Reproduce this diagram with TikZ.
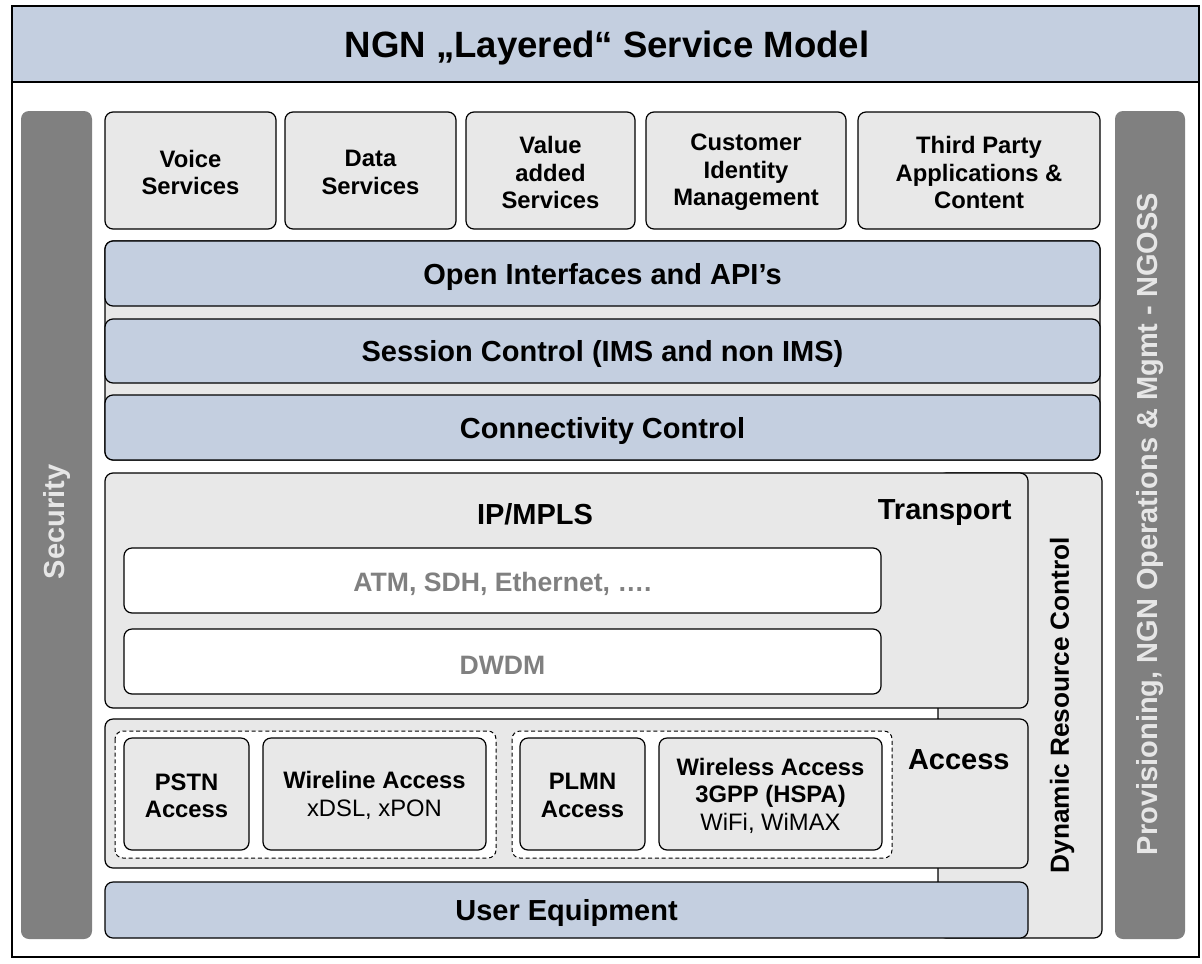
\documentclass[tikz,border=0pt]{standalone}
\usepackage{fontspec}
\setmainfont{Liberation Sans}
\usepackage{xcolor}
\usepackage{tikz}
\usetikzlibrary{positioning}

\definecolor{layerblue}{HTML}{C4CFE0}
\definecolor{boxgray}{HTML}{E8E8E8}
\definecolor{sidegray}{HTML}{808080}
\definecolor{sidetext}{HTML}{E6E6E6}
\definecolor{techgray}{HTML}{808080}

\begin{document}
\begin{tikzpicture}[x=0.5pt, y=-0.5pt,
    box/.style={draw=black, line width=0.6pt, rounded corners=4pt, fill=boxgray},
    layer/.style={box, fill=layerblue},
    techbox/.style={box, fill=white},
    group/.style={draw=black, line width=0.5pt, dash pattern=on 2pt off 1.4pt, rounded corners=4pt, fill=white},
    side/.style={fill=sidegray, rounded corners=4pt},
    bigfont/.style={font=\bfseries\fontsize{14.5}{17}\selectfont, inner sep=0pt},
    small/.style={font=\bfseries\fontsize{11.9}{13.7}\selectfont, align=center, inner sep=0pt, yshift=-0.75pt},
    big/.style={bigfont, yshift=-1.5pt},
    sidelabel/.style={bigfont, text=sidetext, rotate=90}]
    \useasboundingbox (0,0) rectangle (1202,963);

    % Frame and title
    \draw[line width=1pt, fill=white] (12,6) rectangle (1199,957);
    \draw[line width=1pt, fill=layerblue] (12,6) rectangle (1199,82);
    \node[font=\bfseries\fontsize{18.3}{22}\selectfont, inner sep=0pt, yshift=-1.5pt] (title) at (607,45) {NGN „Layered“ Service Model};

    % Side bars
    \path[side] (21,111) rectangle (92,939);
    \node[sidelabel] (security) at (57,522) {Security};
    \path[side] (1115,111) rectangle (1185,939);
    \node[sidelabel] (oss) at (1150,524) {Provisioning, NGN Operations \& Mgmt - NGOSS};

    % Services
    \draw[box] (105,112) rectangle (276,229);
    \node[small] (voice) at (190.5,171) {Voice\\Services};
    \draw[box] (285,112) rectangle (456,229);
    \node[small] (data) at (370.5,171) {Data\\Services};
    \draw[box] (466,112) rectangle (635,229);
    \node[small] (vas) at (550.5,171) {Value\\added\\Services};
    \draw[box] (646,112) rectangle (846,229);
    \node[small] (cim) at (746,171) {Customer\\Identity\\Management};
    \draw[box] (858,112) rectangle (1100,229);
    \node[small] (third) at (979,171) {Third Party\\Applications \&\\Content};

    % Control layers
    \draw[box] (105,241) rectangle (1100,460);
    \draw[layer] (105,241) rectangle (1100,306);
    \node[big] (api) at (602.5,274) {Open Interfaces and API’s};
    \draw[layer] (105,319) rectangle (1100,383);
    \node[big] (session) at (602.5,351) {Session Control (IMS and non IMS)};
    \draw[layer] (105,395) rectangle (1100,460);
    \node[big] (conn) at (602.5,428) {Connectivity Control};

    % Dynamic Resource Control
    \draw[box] (938,473) rectangle (1102,938);
    \node[bigfont, font=\bfseries\fontsize{13.1}{16}\selectfont, rotate=90] (drc) at (1062,705) {Dynamic Resource Control};

    % Transport
    \draw[box] (105,473) rectangle (1028,708);
    \node[big] (ipmpls) at (535,511) {IP/MPLS};
    \node[big, anchor=east] (transport) at (1012,510) {Transport};
    \draw[techbox] (124,548) rectangle (881,613);
    \node[big, font=\bfseries\fontsize{13.3}{16}\selectfont, text=techgray] (atm) at (502.5,581) {ATM, SDH, Ethernet, ….};
    \draw[techbox] (124,629) rectangle (881,694);
    \node[big, font=\bfseries\fontsize{13.3}{16}\selectfont, text=techgray] (dwdm) at (502.5,662) {DWDM};

    % Access
    \draw[box] (105,719) rectangle (1028,868);
    \node[big, anchor=east] (access) at (1010,757) {Access};
    \draw[group] (115,731) rectangle (496,858);
    \draw[box] (124,738) rectangle (249,850);
    \node[small] (pstn) at (186.5,794) {PSTN\\Access};
    \draw[box] (263,738) rectangle (486,850);
    \node[small] (wireline) at (374.5,794) {Wireline Access\\{\mdseries xDSL, xPON}};
    \draw[group] (512,731) rectangle (892,858);
    \draw[box] (520,738) rectangle (645,850);
    \node[small] (plmn) at (582.5,794) {PLMN\\Access};
    \draw[box] (659,738) rectangle (882,850);
    \node[small] (wireless) at (770.5,794) {Wireless Access\\3GPP (HSPA)\\{\mdseries WiFi, WiMAX}};

    % User equipment
    \draw[layer] (105,882) rectangle (1028,938);
    \node[big] (ue) at (566.5,910) {User Equipment};
\end{tikzpicture}
\end{document}
